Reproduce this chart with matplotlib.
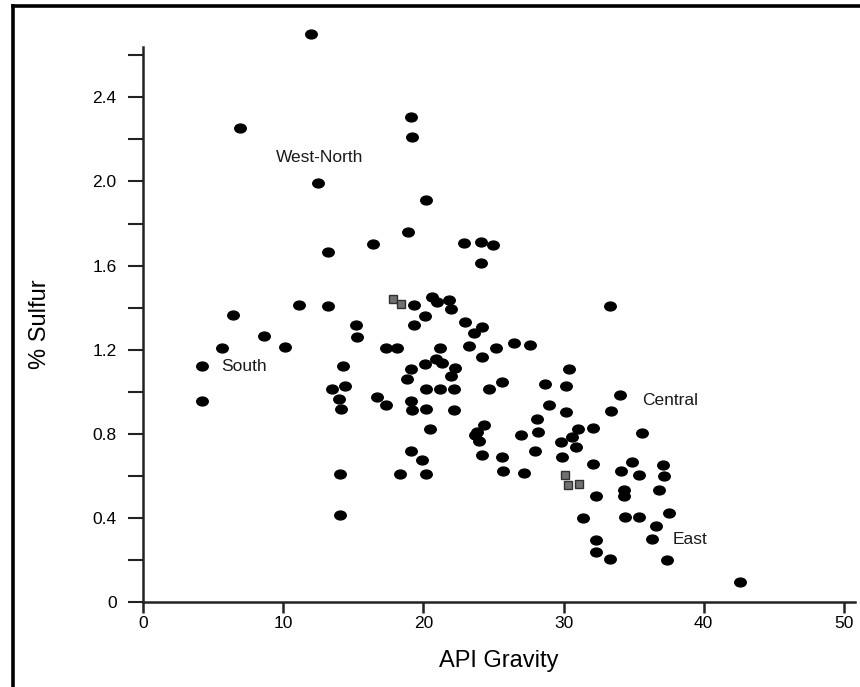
import matplotlib
matplotlib.use("Agg")
import matplotlib.pyplot as plt
import numpy as np
from matplotlib.path import Path
from matplotlib.lines import Line2D

plt.rcParams['font.family'] = ['Liberation Sans', 'DejaVu Sans']

# crude oils, API gravity vs % sulfur
api = [12.0, 6.9, 19.1, 19.2, 12.5, 20.2, 18.9, 16.4, 13.2, 22.9, 24.1, 25.0, 24.1,
       11.1, 13.2, 19.3, 20.6, 21.0, 21.8, 22.0, 6.4, 20.1, 15.2, 19.3, 23.0, 24.2,
       23.6, 8.6, 15.3, 26.5, 27.6,
       5.6, 10.1, 4.2, 4.2, 17.3, 18.1, 14.3, 13.5, 14.4, 14.0, 14.1, 16.7, 17.3,
       19.1, 19.2, 20.2, 22.2, 20.5, 19.1, 19.9, 14.05, 18.3, 20.2, 14.05, 21.2,
       20.9, 21.3, 20.1, 19.1, 18.8, 22.25, 22.0, 20.2, 21.2, 22.2, 23.25, 24.2,
       25.2, 24.7, 25.6, 24.3, 23.8, 23.7, 24.0, 24.2, 25.6, 25.7, 27.2, 27.0,
       28.1, 28.2, 27.96,
       33.3, 30.4, 28.7, 30.2, 34.05, 28.96, 30.2, 33.4, 31.0, 32.1, 35.6, 29.8,
       30.6, 30.9, 29.9, 32.1, 34.1, 34.9, 35.4, 37.1, 37.2, 34.3, 34.3, 36.8,
       32.3, 31.4, 34.4, 35.4, 37.5, 36.6, 36.3, 32.3, 32.3, 33.35, 37.4, 42.6]
sulfur = [2.70, 2.256, 2.307, 2.21, 1.995, 1.914, 1.762, 1.702, 1.667, 1.707, 1.710, 1.70, 1.612,
          1.413, 1.41, 1.413, 1.449, 1.425, 1.438, 1.394, 1.365, 1.359, 1.319, 1.319, 1.330, 1.31,
          1.278, 1.267, 1.259, 1.231, 1.22,
          1.207, 1.215, 1.122, 0.954, 1.209, 1.207, 1.122, 1.013, 1.028, 0.967, 0.916, 0.975, 0.938,
          0.956, 0.915, 0.916, 0.915, 0.823, 0.718, 0.674, 0.611, 0.611, 0.611, 0.416, 1.207,
          1.157, 1.138, 1.133, 1.106, 1.062, 1.114, 1.077, 1.014, 1.014, 1.011, 1.217, 1.164,
          1.207, 1.011, 1.046, 0.843, 0.808, 0.796, 0.764, 0.698, 0.690, 0.623, 0.614, 0.793,
          0.872, 0.808, 0.717,
          1.406, 1.106, 1.037, 1.026, 0.986, 0.938, 0.906, 0.909, 0.821, 0.826, 0.806, 0.762,
          0.786, 0.735, 0.690, 0.655, 0.622, 0.666, 0.606, 0.654, 0.599, 0.535, 0.506, 0.533,
          0.502, 0.400, 0.402, 0.402, 0.423, 0.362, 0.298, 0.294, 0.238, 0.203, 0.198, 0.094]

# grey square samples
sq_api = [17.8, 18.4, 30.1, 30.3, 31.1]
sq_sulfur = [1.44, 1.418, 0.606, 0.558, 0.559]

regions = ["West-North", "South", "Central", "East"]
region_x = [9.5, 5.6, 35.6, 37.8]
region_y = [2.115, 1.12, 0.959, 0.296]

fig = plt.figure(figsize=(8.6, 6.87), dpi=100)
ax = fig.add_axes([0.1663, 0.1237, 0.828, 0.808])

# slightly flattened dot
circ = Path.unit_circle()
ellipse = Path(circ.vertices * np.array([1.3, 1.0]), circ.codes)

ax.plot(api, sulfur, ls='none', marker=ellipse, ms=8.3, color='black', clip_on=False)
ax.plot(sq_api, sq_sulfur, ls='none', marker='s', ms=5.5, mfc='#707070', mec='#303030',
        mew=1.0, clip_on=False)

for name, x, y in zip(regions, region_x, region_y):
    ax.text(x, y, name, fontsize=12.5, ha='left', va='center', color='#1a1a1a')

ax.set_xlim(0, 50.8)
ax.set_ylim(0, 2.64)
ax.set_xticks([0, 10, 20, 30, 40, 50])
ax.set_yticks([0, 0.4, 0.8, 1.2, 1.6, 2.0, 2.4])
ax.set_yticklabels(['0', '0.4', '0.8', '1.2', '1.6', '2.0', '2.4'])
ax.set_yticks(np.arange(0.2, 2.61, 0.4), minor=True)

for side in ['top', 'right']:
    ax.spines[side].set_visible(False)
for side in ['left', 'bottom']:
    ax.spines[side].set_linewidth(1.8)
    ax.spines[side].set_color('#222222')

ax.tick_params(axis='x', direction='out', length=8, width=1.8, labelsize=12.5, pad=2, color='#222222')
ax.tick_params(axis='y', which='both', direction='out', length=11, width=1.5, labelsize=12.5, pad=8,
               color='#222222')

ax.set_xlabel("API Gravity", fontsize=17, labelpad=14)
ax.set_ylabel("% Sulfur", fontsize=17, labelpad=30)

# frame lines on top and left edge of the picture
fig.add_artist(Line2D([12.5 / 860, 1.0], [1 - 5.5 / 687, 1 - 5.5 / 687], color='black', lw=2.6,
                      transform=fig.transFigure))
fig.add_artist(Line2D([12.5 / 860, 12.5 / 860], [0, 1 - 5.5 / 687], color='black', lw=2.6,
                      transform=fig.transFigure))

fig.savefig("out.png", dpi=100)
